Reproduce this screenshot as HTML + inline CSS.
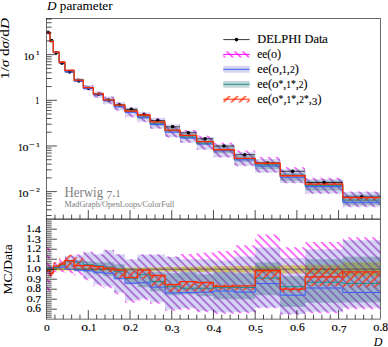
<!DOCTYPE html>
<html><head><meta charset="utf-8"><title>D parameter</title>
<style>html,body{margin:0;padding:0;background:#fff;}body{width:388px;height:347px;overflow:hidden;font-family:"Liberation Serif",serif;}svg{display:block;}</style></head>
<body>
<svg width="388" height="347" viewBox="0 0 388 347" font-family="'Liberation Serif', serif">
<defs>
<pattern id="hm" patternUnits="userSpaceOnUse" width="5.657" height="5.657" patternTransform="translate(3.4 0) rotate(45)"><line x1="-1" y1="2.8285" x2="6.657" y2="2.8285" stroke="#ff00ff" stroke-width="1.1"/></pattern>
<pattern id="hp" patternUnits="userSpaceOnUse" width="5.657" height="5.657" patternTransform="translate(3.4 0) rotate(45)"><line x1="-1" y1="2.8285" x2="6.657" y2="2.8285" stroke="#8a1cb4" stroke-width="1.0"/></pattern>
<pattern id="hr" patternUnits="userSpaceOnUse" width="5.657" height="5.657" patternTransform="translate(1.7 0) rotate(-45)"><line x1="-1" y1="2.8285" x2="6.657" y2="2.8285" stroke="#ff2a00" stroke-width="1.3"/></pattern>
<clipPath id="cm"><rect x="46.6" y="18.6" width="333.7" height="200.5"/></clipPath>
<clipPath id="cr"><rect x="46.6" y="219.1" width="333.7" height="100"/></clipPath>
</defs>
<rect width="388" height="347" fill="#fff"/>
<g clip-path="url(#cm)">
<clipPath id="com"><path clip-rule="evenodd" d="M0 0H388V347H0ZM46.6 31.71H49.94V32.9H46.6ZM49.94 39.91H53.27V41.1H49.94ZM53.27 51.92H59.11V52.5H53.27ZM59.11 62.04H64.95V63H59.11ZM64.95 69.49H74.13V71.8H64.95ZM74.13 78.3H83.31V81.4H74.13ZM83.31 85.22H93.32V90.21H83.31ZM93.32 91.56H103.33V97.57H93.32ZM103.33 96.57H114.17V103.74H103.33ZM114.17 102.26H125.02V110.26H114.17ZM125.02 107.48H137.53V116.83H125.02ZM137.53 112.13H150.05V121.73H137.53ZM150.05 117.93H165.06V128.54H150.05ZM165.06 124.53H180.08V137.03H165.06ZM180.08 130.91H196.76V142.6H180.08ZM196.76 136.91H213.45V149.5H196.76ZM213.45 144.33H234.31V157.25H213.45ZM234.31 152.31H255.16V165.78H234.31ZM255.16 159.12H280.19V172.55H255.16ZM280.19 169.18H305.22V183.05H280.19ZM305.22 178.9H342.76V193.48H305.22ZM342.76 191.95H380.3V206.64H342.76Z"/></clipPath>
<g clip-path="url(#com)"><path d="M46.6 28.36H49.94V37.23H46.6ZM49.94 39.34H53.27V41.94H49.94ZM53.27 51.36H59.11V53.3H53.27ZM59.11 61.31H64.95V63.8H59.11ZM64.95 69.4H74.13V72.81H64.95ZM74.13 78.13H83.31V82.13H74.13ZM83.31 85.1H93.32V90.61H83.31ZM93.32 91.44H103.33V98H93.32ZM103.33 96.47H114.17V104.18H103.33ZM114.17 102.18H125.02V110.71H114.17ZM125.02 107.41H137.53V117.39H125.02ZM137.53 112.03H150.05V122.16H137.53ZM150.05 117.83H165.06V128.99H150.05ZM165.06 124.41H180.08V137.43H165.06ZM180.08 130.01H196.76V143.1H180.08ZM196.76 135.77H213.45V149.95H196.76ZM213.45 142.7H234.31V157.68H213.45ZM234.31 150.45H255.16V166.2H234.31ZM255.16 157.11H280.19V172.8H255.16ZM280.19 167.36H305.22V183.34H280.19ZM305.22 177.71H342.76V194H305.22ZM342.76 191.49H380.3V207.13H342.76Z" fill="url(#hm)"/></g>
<path d="M46.6 31.71H49.94V32.9H46.6ZM49.94 39.91H53.27V41.1H49.94ZM53.27 51.92H59.11V52.5H53.27ZM59.11 62.04H64.95V63H59.11ZM64.95 69.49H74.13V71.8H64.95ZM74.13 78.3H83.31V81.4H74.13ZM83.31 85.22H93.32V90.21H83.31ZM93.32 91.56H103.33V97.57H93.32ZM103.33 96.57H114.17V103.74H103.33ZM114.17 102.26H125.02V110.26H114.17ZM125.02 107.48H137.53V116.83H125.02ZM137.53 112.13H150.05V121.73H137.53ZM150.05 117.93H165.06V128.54H150.05ZM165.06 124.53H180.08V137.03H165.06ZM180.08 130.91H196.76V142.6H180.08ZM196.76 136.91H213.45V149.5H196.76ZM213.45 144.33H234.31V157.25H213.45ZM234.31 152.31H255.16V165.78H234.31ZM255.16 159.12H280.19V172.55H255.16ZM280.19 169.18H305.22V183.05H280.19ZM305.22 178.9H342.76V193.48H305.22ZM342.76 191.95H380.3V206.64H342.76Z" fill="#d6d6f3"/>
<clipPath id="cbm"><path d="M46.6 31.71H49.94V32.9H46.6ZM49.94 39.91H53.27V41.1H49.94ZM53.27 51.92H59.11V52.5H53.27ZM59.11 62.04H64.95V63H59.11ZM64.95 69.49H74.13V71.8H64.95ZM74.13 78.3H83.31V81.4H74.13ZM83.31 85.22H93.32V90.21H83.31ZM93.32 91.56H103.33V97.57H93.32ZM103.33 96.57H114.17V103.74H103.33ZM114.17 102.26H125.02V110.26H114.17ZM125.02 107.48H137.53V116.83H125.02ZM137.53 112.13H150.05V121.73H137.53ZM150.05 117.93H165.06V128.54H150.05ZM165.06 124.53H180.08V137.03H165.06ZM180.08 130.91H196.76V142.6H180.08ZM196.76 136.91H213.45V149.5H196.76ZM213.45 144.33H234.31V157.25H213.45ZM234.31 152.31H255.16V165.78H234.31ZM255.16 159.12H280.19V172.55H255.16ZM280.19 169.18H305.22V183.05H280.19ZM305.22 178.9H342.76V193.48H305.22ZM342.76 191.95H380.3V206.64H342.76Z"/></clipPath>
<g clip-path="url(#cbm)"><path d="M46.6 28.36H49.94V37.23H46.6ZM49.94 39.34H53.27V41.94H49.94ZM53.27 51.36H59.11V53.3H53.27ZM59.11 61.31H64.95V63.8H59.11ZM64.95 69.4H74.13V72.81H64.95ZM74.13 78.13H83.31V82.13H74.13ZM83.31 85.1H93.32V90.61H83.31ZM93.32 91.44H103.33V98H93.32ZM103.33 96.47H114.17V104.18H103.33ZM114.17 102.18H125.02V110.71H114.17ZM125.02 107.41H137.53V117.39H125.02ZM137.53 112.03H150.05V122.16H137.53ZM150.05 117.83H165.06V128.99H150.05ZM165.06 124.41H180.08V137.43H165.06ZM180.08 130.01H196.76V143.1H180.08ZM196.76 135.77H213.45V149.95H196.76ZM213.45 142.7H234.31V157.68H213.45ZM234.31 150.45H255.16V166.2H234.31ZM255.16 157.11H280.19V172.8H255.16ZM280.19 167.36H305.22V183.34H280.19ZM305.22 177.71H342.76V194H305.22ZM342.76 191.49H380.3V207.13H342.76Z" fill="url(#hp)"/></g>
<path d="M46.6 31.91H49.94V32.7H46.6ZM49.94 40.11H53.27V40.9H49.94ZM53.27 51.92H59.11V52.5H53.27ZM59.11 61.86H64.95V63H59.11ZM64.95 70.29H74.13V71.8H64.95ZM74.13 79.19H83.31V81.1H74.13ZM83.31 86.77H93.32V88.9H83.31ZM93.32 92.96H103.33V95.32H93.32ZM103.33 98.66H114.17V101.44H103.33ZM114.17 104.03H125.02V107.09H114.17ZM125.02 109.3H137.53V112.52H125.02ZM137.53 115H150.05V118.74H137.53ZM150.05 121.2H165.06V125.53H150.05ZM165.06 127.61H180.08V132.77H165.06ZM180.08 133.4H196.76V138.51H180.08ZM196.76 139.82H213.45V145.04H196.76ZM213.45 146.6H234.31V153.07H213.45ZM234.31 155.51H255.16V161.77H234.31ZM255.16 161.66H280.19V168.97H255.16ZM280.19 172.74H305.22V180.69H280.19ZM305.22 180.61H342.76V190.59H305.22ZM342.76 194.68H380.3V204.94H342.76Z" fill="rgba(50,110,125,0.36)"/>
<path d="M46.6 32.3H49.94V33.74H46.6ZM49.94 40.5H53.27V42.59H49.94ZM53.27 51.36H59.11V52.5H53.27ZM59.11 61.13H64.95V63H59.11ZM64.95 69.31H74.13V71.8H64.95ZM74.13 78.65H83.31V80.7H74.13ZM83.31 87.33H93.32V88.3H83.31ZM93.32 93.71H103.33V94.5H93.32ZM103.33 99.8H114.17V100.6H103.33ZM114.17 105.2H125.02V106.98H114.17ZM125.02 109.6H137.53V111.06H125.02ZM137.53 115H150.05V116.78H137.53ZM150.05 121.89H165.06V124.54H150.05ZM165.06 129.79H180.08V131.98H165.06ZM180.08 135.43H196.76V137.73H180.08ZM196.76 141.63H213.45V143.98H196.76ZM213.45 149.22H234.31V150.68H213.45ZM234.31 158.32H255.16V159.38H234.31ZM255.16 163.26H280.19V165.2H255.16ZM280.19 175.24H305.22V176.36H280.19ZM305.22 182.19H342.76V186.2H305.22ZM342.76 197.54H380.3V200.94H342.76Z" fill="url(#hr)"/>
<line x1="46.6" x2="49.94" y1="32.3" y2="32.3" stroke="#000" stroke-width="0.7"/>
<line x1="48.27" x2="48.27" y1="31.91" y2="32.7" stroke="#000" stroke-width="0.7"/>
<circle cx="48.27" cy="32.3" r="1.75" fill="#000"/>
<line x1="49.94" x2="53.27" y1="40.5" y2="40.5" stroke="#000" stroke-width="0.7"/>
<line x1="51.61" x2="51.61" y1="40.2" y2="40.8" stroke="#000" stroke-width="0.7"/>
<circle cx="51.61" cy="40.5" r="1.75" fill="#000"/>
<line x1="53.27" x2="59.11" y1="52.7" y2="52.7" stroke="#000" stroke-width="0.7"/>
<line x1="56.19" x2="56.19" y1="52.46" y2="52.94" stroke="#000" stroke-width="0.7"/>
<circle cx="56.19" cy="52.7" r="1.75" fill="#000"/>
<line x1="59.11" x2="64.95" y1="63.2" y2="63.2" stroke="#000" stroke-width="0.7"/>
<line x1="62.03" x2="62.03" y1="62.96" y2="63.44" stroke="#000" stroke-width="0.7"/>
<circle cx="62.03" cy="63.2" r="1.75" fill="#000"/>
<line x1="64.95" x2="74.13" y1="72" y2="72" stroke="#000" stroke-width="0.7"/>
<line x1="69.54" x2="69.54" y1="71.76" y2="72.24" stroke="#000" stroke-width="0.7"/>
<circle cx="69.54" cy="72" r="1.75" fill="#000"/>
<line x1="74.13" x2="83.31" y1="80.9" y2="80.9" stroke="#000" stroke-width="0.7"/>
<line x1="78.72" x2="78.72" y1="80.66" y2="81.14" stroke="#000" stroke-width="0.7"/>
<circle cx="78.72" cy="80.9" r="1.75" fill="#000"/>
<line x1="83.31" x2="93.32" y1="88.3" y2="88.3" stroke="#000" stroke-width="0.7"/>
<line x1="88.31" x2="88.31" y1="88.06" y2="88.54" stroke="#000" stroke-width="0.7"/>
<circle cx="88.31" cy="88.3" r="1.75" fill="#000"/>
<line x1="93.32" x2="103.33" y1="94.3" y2="94.3" stroke="#000" stroke-width="0.7"/>
<line x1="98.32" x2="98.32" y1="94.04" y2="94.56" stroke="#000" stroke-width="0.7"/>
<circle cx="98.32" cy="94.3" r="1.75" fill="#000"/>
<line x1="103.33" x2="114.17" y1="100" y2="100" stroke="#000" stroke-width="0.7"/>
<line x1="108.75" x2="108.75" y1="99.72" y2="100.28" stroke="#000" stroke-width="0.7"/>
<circle cx="108.75" cy="100" r="1.75" fill="#000"/>
<line x1="114.17" x2="125.02" y1="105" y2="105" stroke="#000" stroke-width="0.7"/>
<line x1="119.6" x2="119.6" y1="104.7" y2="105.3" stroke="#000" stroke-width="0.7"/>
<circle cx="119.6" cy="105" r="1.75" fill="#000"/>
<line x1="125.02" x2="137.53" y1="109.3" y2="109.3" stroke="#000" stroke-width="0.7"/>
<line x1="131.28" x2="131.28" y1="108.99" y2="109.62" stroke="#000" stroke-width="0.7"/>
<circle cx="131.28" cy="109.3" r="1.75" fill="#000"/>
<line x1="137.53" x2="150.05" y1="114.8" y2="114.8" stroke="#000" stroke-width="0.7"/>
<line x1="143.79" x2="143.79" y1="114.45" y2="115.16" stroke="#000" stroke-width="0.7"/>
<circle cx="143.79" cy="114.8" r="1.75" fill="#000"/>
<line x1="150.05" x2="165.06" y1="120.6" y2="120.6" stroke="#000" stroke-width="0.7"/>
<line x1="157.56" x2="157.56" y1="120.21" y2="121" stroke="#000" stroke-width="0.7"/>
<circle cx="157.56" cy="120.6" r="1.75" fill="#000"/>
<line x1="165.06" x2="180.08" y1="126.8" y2="126.8" stroke="#000" stroke-width="0.7"/>
<line x1="172.57" x2="172.57" y1="126.37" y2="127.24" stroke="#000" stroke-width="0.7"/>
<circle cx="172.57" cy="126.8" r="1.75" fill="#000"/>
<line x1="180.08" x2="196.76" y1="132.8" y2="132.8" stroke="#000" stroke-width="0.7"/>
<line x1="188.42" x2="188.42" y1="132.31" y2="133.3" stroke="#000" stroke-width="0.7"/>
<circle cx="188.42" cy="132.8" r="1.75" fill="#000"/>
<line x1="196.76" x2="213.45" y1="138.8" y2="138.8" stroke="#000" stroke-width="0.7"/>
<line x1="205.11" x2="205.11" y1="138.25" y2="139.36" stroke="#000" stroke-width="0.7"/>
<circle cx="205.11" cy="138.8" r="1.75" fill="#000"/>
<line x1="213.45" x2="234.31" y1="146" y2="146" stroke="#000" stroke-width="0.7"/>
<line x1="223.88" x2="223.88" y1="145.41" y2="146.6" stroke="#000" stroke-width="0.7"/>
<circle cx="223.88" cy="146" r="1.75" fill="#000"/>
<line x1="234.31" x2="255.16" y1="154.7" y2="154.7" stroke="#000" stroke-width="0.7"/>
<line x1="244.73" x2="244.73" y1="154.08" y2="155.35" stroke="#000" stroke-width="0.7"/>
<circle cx="244.73" cy="154.7" r="1.75" fill="#000"/>
<line x1="255.16" x2="280.19" y1="163" y2="163" stroke="#000" stroke-width="0.7"/>
<line x1="267.68" x2="267.68" y1="162.32" y2="163.71" stroke="#000" stroke-width="0.7"/>
<circle cx="267.68" cy="163" r="1.75" fill="#000"/>
<line x1="280.19" x2="305.22" y1="171.3" y2="171.3" stroke="#000" stroke-width="0.7"/>
<line x1="292.7" x2="292.7" y1="170.52" y2="172.11" stroke="#000" stroke-width="0.7"/>
<circle cx="292.7" cy="171.3" r="1.75" fill="#000"/>
<line x1="305.22" x2="342.76" y1="182.5" y2="182.5" stroke="#000" stroke-width="0.7"/>
<line x1="323.99" x2="323.99" y1="181.63" y2="183.41" stroke="#000" stroke-width="0.7"/>
<circle cx="323.99" cy="182.5" r="1.75" fill="#000"/>
<line x1="342.76" x2="380.3" y1="197" y2="197" stroke="#000" stroke-width="0.7"/>
<line x1="361.53" x2="361.53" y1="195.66" y2="198.44" stroke="#000" stroke-width="0.7"/>
<circle cx="361.53" cy="197" r="1.75" fill="#000"/>
<path d="M46.6 32.3H49.94V40.5H53.27V52.31H59.11V62.81H64.95V72H74.13V81.1H83.31V88.6H93.32V94.9H103.33V100.81H114.17V106.98H125.02V112.29H137.53V117.68H150.05V124.54H165.06V132.17H180.08V138.11H196.76V143.98H213.45V150.88H234.31V159.86H255.16V166.08H280.19V177.27H305.22V186.63H342.76V202.26H380.3" fill="none" stroke="#3a5cff" stroke-width="1"/>
<path d="M46.6 32.3H49.94V40.5H53.27V52.4H59.11V62.42H64.95V70.47H74.13V79.56H83.31V87.43H93.32V93.62H103.33V99.61H114.17V105.5H125.02V111.28H137.53V115.92H150.05V123.25H165.06V130.62H180.08V136.98H196.76V142.98H213.45V150.06H234.31V158.71H255.16V164.87H280.19V175.12H305.22V185.28H342.76V200.04H380.3" fill="none" stroke="#1f8a8a" stroke-width="1"/>
<path d="M46.6 32.5H49.94V41.31H53.27V52.11H59.11V62.23H64.95V70.38H74.13V80.22H83.31V87.62H93.32V93.81H103.33V99.8H114.17V105.2H125.02V111.06H137.53V115H150.05V121.89H165.06V130.14H180.08V135.43H196.76V141.63H213.45V149.74H234.31V158.32H255.16V163.26H280.19V175.73H305.22V184.09H342.76V197.54H380.3" fill="none" stroke="#ff2a00" stroke-width="1.3"/>
</g>
<g clip-path="url(#cr)">
<path d="M46.6 267.2H49.94V271.2H46.6ZM49.94 267.7H53.27V270.7H49.94ZM53.27 268H59.11V270.4H53.27ZM59.11 268H64.95V270.4H59.11ZM64.95 268H74.13V270.4H64.95ZM74.13 268H83.31V270.4H74.13ZM83.31 268H93.32V270.4H83.31ZM93.32 267.9H103.33V270.5H93.32ZM103.33 267.8H114.17V270.6H103.33ZM114.17 267.7H125.02V270.7H114.17ZM125.02 267.6H137.53V270.8H125.02ZM137.53 267.4H150.05V271H137.53ZM150.05 267.2H165.06V271.2H150.05ZM165.06 267H180.08V271.4H165.06ZM180.08 266.7H196.76V271.7H180.08ZM196.76 266.4H213.45V272H196.76ZM213.45 266.2H234.31V272.2H213.45ZM234.31 266H255.16V272.4H234.31ZM255.16 265.7H280.19V272.7H255.16ZM280.19 265.2H305.22V273.2H280.19ZM305.22 264.7H342.76V273.7H305.22ZM342.76 262.2H380.3V276.2H342.76Z" fill="#f6e840"/>
<clipPath id="cor"><path clip-rule="evenodd" d="M0 0H388V347H0ZM46.6 266.2H49.94V272.2H46.6ZM49.94 266.2H53.27V272.2H49.94ZM53.27 265.2H59.11V268.2H53.27ZM59.11 263.2H64.95V268.2H59.11ZM64.95 255.7H74.13V268.2H64.95ZM74.13 255.2H83.31V271.7H74.13ZM83.31 252.4H93.32V278.4H83.31ZM93.32 254.4H103.33V284.4H93.32ZM103.33 250.3H114.17V286.4H103.33ZM114.17 254.4H125.02V292.5H114.17ZM125.02 259.6H137.53V300.8H125.02ZM137.53 254.8H150.05V298.7H137.53ZM150.05 254.8H165.06V302.2H150.05ZM165.06 257.1H180.08V309.5H165.06ZM180.08 259.2H196.76V308.2H180.08ZM196.76 259.2H213.45V310.9H196.76ZM213.45 260.4H234.31V312.5H213.45ZM234.31 256.4H255.16V312H234.31ZM255.16 247.6H280.19V307.4H255.16ZM280.19 257.9H305.22V313.9H280.19ZM305.22 249.3H342.76V311.7H305.22ZM342.76 240.2H380.3V307.7H342.76Z"/></clipPath>
<g clip-path="url(#cor)"><path d="M46.6 247.2H49.94V291.2H46.6ZM49.94 263.2H53.27V276.2H49.94ZM53.27 262.2H59.11V272.2H53.27ZM59.11 259.2H64.95V272.2H59.11ZM64.95 255.2H74.13V273.2H64.95ZM74.13 254.2H83.31V275.2H74.13ZM83.31 251.7H93.32V280.2H83.31ZM93.32 253.7H103.33V286.2H93.32ZM103.33 249.7H114.17V288.2H103.33ZM114.17 253.9H125.02V294.2H114.17ZM125.02 259.2H137.53V302.7H125.02ZM137.53 254.2H150.05V300.2H137.53ZM150.05 254.2H165.06V303.7H150.05ZM165.06 256.4H180.08V310.7H165.06ZM180.08 254.1H196.76V309.7H180.08ZM196.76 252.7H213.45V312.2H196.76ZM213.45 251.1H234.31V313.7H213.45ZM234.31 245.3H255.16V313.2H234.31ZM255.16 234.6H280.19V308.2H255.16ZM280.19 247.2H305.22V314.7H280.19ZM305.22 241.9H342.76V313.2H305.22ZM342.76 237.2H380.3V309.2H342.76Z" fill="url(#hm)"/></g>
<path d="M46.6 266.2H49.94V272.2H46.6ZM49.94 266.2H53.27V272.2H49.94ZM53.27 265.2H59.11V268.2H53.27ZM59.11 263.2H64.95V268.2H59.11ZM64.95 255.7H74.13V268.2H64.95ZM74.13 255.2H83.31V271.7H74.13ZM83.31 252.4H93.32V278.4H83.31ZM93.32 254.4H103.33V284.4H93.32ZM103.33 250.3H114.17V286.4H103.33ZM114.17 254.4H125.02V292.5H114.17ZM125.02 259.6H137.53V300.8H125.02ZM137.53 254.8H150.05V298.7H137.53ZM150.05 254.8H165.06V302.2H150.05ZM165.06 257.1H180.08V309.5H165.06ZM180.08 259.2H196.76V308.2H180.08ZM196.76 259.2H213.45V310.9H196.76ZM213.45 260.4H234.31V312.5H213.45ZM234.31 256.4H255.16V312H234.31ZM255.16 247.6H280.19V307.4H255.16ZM280.19 257.9H305.22V313.9H280.19ZM305.22 249.3H342.76V311.7H305.22ZM342.76 240.2H380.3V307.7H342.76Z" fill="rgba(100,100,220,0.27)"/>
<clipPath id="cbr"><path d="M46.6 266.2H49.94V272.2H46.6ZM49.94 266.2H53.27V272.2H49.94ZM53.27 265.2H59.11V268.2H53.27ZM59.11 263.2H64.95V268.2H59.11ZM64.95 255.7H74.13V268.2H64.95ZM74.13 255.2H83.31V271.7H74.13ZM83.31 252.4H93.32V278.4H83.31ZM93.32 254.4H103.33V284.4H93.32ZM103.33 250.3H114.17V286.4H103.33ZM114.17 254.4H125.02V292.5H114.17ZM125.02 259.6H137.53V300.8H125.02ZM137.53 254.8H150.05V298.7H137.53ZM150.05 254.8H165.06V302.2H150.05ZM165.06 257.1H180.08V309.5H165.06ZM180.08 259.2H196.76V308.2H180.08ZM196.76 259.2H213.45V310.9H196.76ZM213.45 260.4H234.31V312.5H213.45ZM234.31 256.4H255.16V312H234.31ZM255.16 247.6H280.19V307.4H255.16ZM280.19 257.9H305.22V313.9H280.19ZM305.22 249.3H342.76V311.7H305.22ZM342.76 240.2H380.3V307.7H342.76Z"/></clipPath>
<g clip-path="url(#cbr)"><path d="M46.6 247.2H49.94V291.2H46.6ZM49.94 263.2H53.27V276.2H49.94ZM53.27 262.2H59.11V272.2H53.27ZM59.11 259.2H64.95V272.2H59.11ZM64.95 255.2H74.13V273.2H64.95ZM74.13 254.2H83.31V275.2H74.13ZM83.31 251.7H93.32V280.2H83.31ZM93.32 253.7H103.33V286.2H93.32ZM103.33 249.7H114.17V288.2H103.33ZM114.17 253.9H125.02V294.2H114.17ZM125.02 259.2H137.53V302.7H125.02ZM137.53 254.2H150.05V300.2H137.53ZM150.05 254.2H165.06V303.7H150.05ZM165.06 256.4H180.08V310.7H165.06ZM180.08 254.1H196.76V309.7H180.08ZM196.76 252.7H213.45V312.2H196.76ZM213.45 251.1H234.31V313.7H213.45ZM234.31 245.3H255.16V313.2H234.31ZM255.16 234.6H280.19V308.2H255.16ZM280.19 247.2H305.22V314.7H280.19ZM305.22 241.9H342.76V313.2H305.22ZM342.76 237.2H380.3V309.2H342.76Z" fill="url(#hp)"/></g>
<path d="M46.6 267.2H49.94V271.2H46.6ZM49.94 267.2H53.27V271.2H49.94ZM53.27 265.2H59.11V268.2H53.27ZM59.11 262.2H64.95V268.2H59.11ZM64.95 260.2H74.13V268.2H64.95ZM74.13 260.2H83.31V270.2H74.13ZM83.31 261.2H93.32V272.2H83.31ZM93.32 262.2H103.33V274.2H93.32ZM103.33 262.2H114.17V276.2H103.33ZM114.17 264.2H125.02V279.2H114.17ZM125.02 269.2H137.53V284.2H125.02ZM137.53 270.2H150.05V287.2H137.53ZM150.05 272.2H165.06V291.2H150.05ZM165.06 273.2H180.08V295.2H165.06ZM180.08 272.2H196.76V294.2H180.08ZM196.76 274.2H213.45V296.2H196.76ZM213.45 272.2H234.31V299.2H213.45ZM234.31 273.2H255.16V299.2H234.31ZM255.16 262.2H280.19V295.2H255.16ZM280.19 276.2H305.22V306.9H280.19ZM305.22 259.2H342.76V302.7H305.22ZM342.76 256.8H380.3V302.2H342.76Z" fill="rgba(50,110,125,0.36)"/>
<line x1="46.6" x2="380.3" y1="269.2" y2="269.2" stroke="#333" stroke-width="0.6"/>
<path d="M46.6 269.2H49.94V276.2H46.6ZM49.94 269.2H53.27V279.2H49.94ZM53.27 262.2H59.11V268.2H53.27ZM59.11 258.2H64.95V268.2H59.11ZM64.95 254.7H74.13V268.2H64.95ZM74.13 257.2H83.31V268.2H74.13ZM83.31 264.2H93.32V269.2H83.31ZM93.32 266.2H103.33V270.2H93.32ZM103.33 268.2H114.17V272.2H103.33ZM114.17 270.2H125.02V278.7H114.17ZM125.02 270.7H137.53V277.7H125.02ZM137.53 270.2H150.05V278.7H137.53ZM150.05 275.5H165.06V287.2H150.05ZM165.06 283.2H180.08V292.2H165.06ZM180.08 281.6H196.76V291.2H180.08ZM196.76 282.5H213.45V292.2H196.76ZM213.45 284.2H234.31V290.2H213.45ZM234.31 285.9H255.16V290.2H234.31ZM255.16 270.5H280.19V279.7H255.16ZM280.19 287.2H305.22V291.7H280.19ZM305.22 267.6H342.76V286.2H305.22ZM342.76 271.9H380.3V287.2H342.76Z" fill="url(#hr)"/>
<path d="M46.6 269.2H49.94V269.2H53.27V267.2H59.11V267.2H64.95V269.2H74.13V270.2H83.31V270.7H93.32V272.2H103.33V273.2H114.17V278.7H125.02V283.2H137.53V282.7H150.05V287.2H165.06V292.9H180.08V292.7H196.76V292.2H213.45V291H234.31V292.1H255.16V283.6H280.19V295.2H305.22V288H342.76V292.5H380.3" fill="none" stroke="#3a5cff" stroke-width="1"/>
<path d="M46.6 269.2H49.94V269.2H53.27V267.7H59.11V265.2H64.95V261.2H74.13V262.2H83.31V264.7H93.32V265.7H103.33V267.2H114.17V271.7H125.02V278.7H137.53V274.7H150.05V281.7H165.06V286.7H180.08V288.2H196.76V288.2H213.45V287.7H234.31V287.5H255.16V278.2H280.19V286.7H305.22V282.3H342.76V283.4H380.3" fill="none" stroke="#1f8a8a" stroke-width="1"/>
<path d="M46.6 270.2H49.94V273.2H53.27V266.2H59.11V264.2H64.95V260.7H74.13V265.7H83.31V265.7H93.32V266.7H103.33V268.2H114.17V270.2H125.02V277.7H137.53V270.2H150.05V275.5H165.06V284.7H180.08V281.6H196.76V282.5H213.45V286.4H234.31V285.9H255.16V270.5H280.19V289.2H305.22V276.9H342.76V271.9H380.3" fill="none" stroke="#ff2a00" stroke-width="1.3"/>
</g>
<rect x="46.6" y="18.6" width="333.7" height="200.5" stroke="#1a1a1a" stroke-width="0.65" fill="none"/>
<rect x="46.6" y="219.1" width="333.7" height="100" stroke="#1a1a1a" stroke-width="0.65" fill="none"/>
<path d="M54.94 219.1v-4.5M54.94 319.1v-4.5M63.28 219.1v-4.5M63.28 319.1v-4.5M71.63 219.1v-4.5M71.63 319.1v-4.5M79.97 219.1v-4.5M79.97 319.1v-4.5M88.31 219.1v-9M88.31 319.1v-9M96.66 219.1v-4.5M96.66 319.1v-4.5M105 219.1v-4.5M105 319.1v-4.5M113.34 219.1v-4.5M113.34 319.1v-4.5M121.68 219.1v-4.5M121.68 319.1v-4.5M130.02 219.1v-9M130.02 319.1v-9M138.37 219.1v-4.5M138.37 319.1v-4.5M146.71 219.1v-4.5M146.71 319.1v-4.5M155.05 219.1v-4.5M155.05 319.1v-4.5M163.4 219.1v-4.5M163.4 319.1v-4.5M171.74 219.1v-9M171.74 319.1v-9M180.08 219.1v-4.5M180.08 319.1v-4.5M188.42 219.1v-4.5M188.42 319.1v-4.5M196.76 219.1v-4.5M196.76 319.1v-4.5M205.11 219.1v-4.5M205.11 319.1v-4.5M213.45 219.1v-9M213.45 319.1v-9M221.79 219.1v-4.5M221.79 319.1v-4.5M230.13 219.1v-4.5M230.13 319.1v-4.5M238.48 219.1v-4.5M238.48 319.1v-4.5M246.82 219.1v-4.5M246.82 319.1v-4.5M255.16 219.1v-9M255.16 319.1v-9M263.5 219.1v-4.5M263.5 319.1v-4.5M271.85 219.1v-4.5M271.85 319.1v-4.5M280.19 219.1v-4.5M280.19 319.1v-4.5M288.53 219.1v-4.5M288.53 319.1v-4.5M296.88 219.1v-9M296.88 319.1v-9M305.22 219.1v-4.5M305.22 319.1v-4.5M313.56 219.1v-4.5M313.56 319.1v-4.5M321.9 219.1v-4.5M321.9 319.1v-4.5M330.25 219.1v-4.5M330.25 319.1v-4.5M338.59 219.1v-9M338.59 319.1v-9M346.93 219.1v-4.5M346.93 319.1v-4.5M355.27 219.1v-4.5M355.27 319.1v-4.5M363.62 219.1v-4.5M363.62 319.1v-4.5M371.96 219.1v-4.5M371.96 319.1v-4.5M46.6 215.52h5M46.6 209.81h5M46.6 205.39h5M46.6 201.77h5M46.6 198.71h5M46.6 196.07h5M46.6 193.73h5M46.6 191.64h10.3M46.6 177.89h5M46.6 169.85h5M46.6 164.14h5M46.6 159.72h5M46.6 156.1h5M46.6 153.04h5M46.6 150.4h5M46.6 148.06h5M46.6 145.97h10.3M46.6 132.22h5M46.6 124.18h5M46.6 118.47h5M46.6 114.05h5M46.6 110.43h5M46.6 107.37h5M46.6 104.73h5M46.6 102.39h5M46.6 100.3h10.3M46.6 86.55h5M46.6 78.51h5M46.6 72.8h5M46.6 68.38h5M46.6 64.76h5M46.6 61.7h5M46.6 59.06h5M46.6 56.72h5M46.6 54.63h10.3M46.6 40.88h5M46.6 32.84h5M46.6 27.13h5M46.6 22.71h5M46.6 19.09h5M46.6 317.2h5M46.6 315.2h5M46.6 313.2h5M46.6 311.2h5M46.6 309.2h10.3M46.6 307.2h5M46.6 305.2h5M46.6 303.2h5M46.6 301.2h5M46.6 299.2h10.3M46.6 297.2h5M46.6 295.2h5M46.6 293.2h5M46.6 291.2h5M46.6 289.2h10.3M46.6 287.2h5M46.6 285.2h5M46.6 283.2h5M46.6 281.2h5M46.6 279.2h10.3M46.6 277.2h5M46.6 275.2h5M46.6 273.2h5M46.6 271.2h5M46.6 269.2h10.3M46.6 267.2h5M46.6 265.2h5M46.6 263.2h5M46.6 261.2h5M46.6 259.2h10.3M46.6 257.2h5M46.6 255.2h5M46.6 253.2h5M46.6 251.2h5M46.6 249.2h10.3M46.6 247.2h5M46.6 245.2h5M46.6 243.2h5M46.6 241.2h5M46.6 239.2h10.3M46.6 237.2h5M46.6 235.2h5M46.6 233.2h5M46.6 231.2h5M46.6 229.2h10.3M46.6 227.2h5M46.6 225.2h5M46.6 223.2h5M46.6 221.2h5" stroke="#000" stroke-width="0.7" fill="none"/>
<g fill="#000" stroke="#000" stroke-width="0.05" font-size="12">
<text x="47" y="9.8" textLength="65.6" lengthAdjust="spacingAndGlyphs"><tspan font-style="italic">D</tspan> parameter</text>
<text transform="translate(9.4 79.2) rotate(-90)" textLength="61.2" lengthAdjust="spacingAndGlyphs">1/<tspan font-style="italic">σ</tspan> d<tspan font-style="italic">σ</tspan>/d<tspan font-style="italic">D</tspan></text>
<text transform="translate(12.3 294.5) rotate(-90)" textLength="50.3" lengthAdjust="spacingAndGlyphs">MC/Data</text>
<text x="382.3" y="346.2" text-anchor="end" font-style="italic">D</text>
</g>
<g fill="#000" stroke="#000" stroke-width="0.2" font-size="12">
<text x="24.0" y="59.83" textLength="10.3" lengthAdjust="spacingAndGlyphs"><tspan font-size="9.36">1</tspan><tspan font-size="12.96">o</tspan></text><text x="36.0" y="55.23" font-size="8.4" textLength="3.5" lengthAdjust="spacingAndGlyphs"><tspan font-size="6.55">1</tspan></text>
<text x="35.6" y="103.5" textLength="3.6" lengthAdjust="spacingAndGlyphs"><tspan font-size="9.36">1</tspan></text>
<text x="18.2" y="151.17" textLength="10.3" lengthAdjust="spacingAndGlyphs"><tspan font-size="9.36">1</tspan><tspan font-size="12.96">o</tspan></text><text x="29.2" y="146.97" font-size="8.4" textLength="5.6" lengthAdjust="spacingAndGlyphs">−</text><text x="36.3" y="146.57" font-size="8.4" textLength="3.5" lengthAdjust="spacingAndGlyphs"><tspan font-size="6.55">1</tspan></text>
<text x="18.2" y="196.84" textLength="10.3" lengthAdjust="spacingAndGlyphs"><tspan font-size="9.36">1</tspan><tspan font-size="12.96">o</tspan></text><text x="29.2" y="192.64" font-size="8.4" textLength="5.6" lengthAdjust="spacingAndGlyphs">−</text><text x="36.3" y="192.24" font-size="8.4" textLength="3.5" lengthAdjust="spacingAndGlyphs"><tspan font-size="6.55">2</tspan></text>
<text x="26.4" y="311.6" textLength="14.6" lengthAdjust="spacingAndGlyphs"><tspan font-size="12.96">o</tspan>.6</text>
<text x="26.4" y="301.6" textLength="14.6" lengthAdjust="spacingAndGlyphs"><tspan font-size="12.96">o</tspan>.<tspan dy="1.74" font-size="11.16">7</tspan><tspan dy="-1.74">&#8203;</tspan></text>
<text x="26.4" y="291.6" textLength="14.6" lengthAdjust="spacingAndGlyphs"><tspan font-size="12.96">o</tspan>.8</text>
<text x="26.4" y="281.6" textLength="14.6" lengthAdjust="spacingAndGlyphs"><tspan font-size="12.96">o</tspan>.<tspan dy="1.74" font-size="11.16">9</tspan><tspan dy="-1.74">&#8203;</tspan></text>
<text x="26.4" y="271.6" textLength="14.6" lengthAdjust="spacingAndGlyphs"><tspan font-size="9.36">1</tspan>.<tspan font-size="12.96">o</tspan></text>
<text x="26.4" y="261.6" textLength="14.6" lengthAdjust="spacingAndGlyphs"><tspan font-size="9.36">1</tspan>.<tspan font-size="9.36">1</tspan></text>
<text x="26.4" y="251.6" textLength="14.6" lengthAdjust="spacingAndGlyphs"><tspan font-size="9.36">1</tspan>.<tspan font-size="9.36">2</tspan></text>
<text x="26.4" y="241.6" textLength="14.6" lengthAdjust="spacingAndGlyphs"><tspan font-size="9.36">1</tspan>.<tspan dy="1.74" font-size="11.16">3</tspan><tspan dy="-1.74">&#8203;</tspan></text>
<text x="26.4" y="231.6" textLength="14.6" lengthAdjust="spacingAndGlyphs"><tspan font-size="9.36">1</tspan>.<tspan dy="1.74" font-size="11.16">4</tspan><tspan dy="-1.74">&#8203;</tspan></text>
<text x="44.1" y="331.4" textLength="5.8" lengthAdjust="spacingAndGlyphs"><tspan font-size="12.96">o</tspan></text>
<text x="81.31" y="331.4" textLength="14.8" lengthAdjust="spacingAndGlyphs"><tspan font-size="12.96">o</tspan>.<tspan font-size="9.36">1</tspan></text>
<text x="123.02" y="331.4" textLength="14.8" lengthAdjust="spacingAndGlyphs"><tspan font-size="12.96">o</tspan>.<tspan font-size="9.36">2</tspan></text>
<text x="164.74" y="331.4" textLength="14.8" lengthAdjust="spacingAndGlyphs"><tspan font-size="12.96">o</tspan>.<tspan dy="1.74" font-size="11.16">3</tspan><tspan dy="-1.74">&#8203;</tspan></text>
<text x="206.45" y="331.4" textLength="14.8" lengthAdjust="spacingAndGlyphs"><tspan font-size="12.96">o</tspan>.<tspan dy="1.74" font-size="11.16">4</tspan><tspan dy="-1.74">&#8203;</tspan></text>
<text x="248.16" y="331.4" textLength="14.8" lengthAdjust="spacingAndGlyphs"><tspan font-size="12.96">o</tspan>.<tspan dy="1.74" font-size="11.16">5</tspan><tspan dy="-1.74">&#8203;</tspan></text>
<text x="289.88" y="331.4" textLength="14.8" lengthAdjust="spacingAndGlyphs"><tspan font-size="12.96">o</tspan>.6</text>
<text x="331.59" y="331.4" textLength="14.8" lengthAdjust="spacingAndGlyphs"><tspan font-size="12.96">o</tspan>.<tspan dy="1.74" font-size="11.16">7</tspan><tspan dy="-1.74">&#8203;</tspan></text>
<text x="373.3" y="331.4" textLength="14.8" lengthAdjust="spacingAndGlyphs"><tspan font-size="12.96">o</tspan>.8</text>
</g>
<line x1="223.3" x2="249.6" y1="39.6" y2="39.6" stroke="#000" stroke-width="0.8"/>
<circle cx="236.45" cy="39.6" r="1.8" fill="#000"/>
<rect x="223.3" y="51.2" width="26.3" height="6.4" fill="url(#hm)"/>
<line x1="223.3" x2="249.6" y1="54.4" y2="54.4" stroke="#ff00ff" stroke-width="1"/>
<rect x="223.3" y="65.9" width="26.3" height="6.8" fill="#d6d6f3"/>
<line x1="223.3" x2="249.6" y1="69.3" y2="69.3" stroke="#3a5cff" stroke-width="1"/>
<rect x="223.3" y="80.9" width="26.3" height="6.8" fill="rgba(60,120,130,0.30)"/>
<line x1="223.3" x2="249.6" y1="84.3" y2="84.3" stroke="#1f8a8a" stroke-width="1"/>
<rect x="223.3" y="96" width="26.3" height="6.4" fill="url(#hr)"/>
<line x1="223.3" x2="249.6" y1="99.2" y2="99.2" stroke="#ff2a00" stroke-width="1"/>
<g fill="#000" stroke="#000" stroke-width="0.12" font-size="12">
<text x="257.2" y="43.2" textLength="70.7" lengthAdjust="spacingAndGlyphs">DELPHI Data</text>
<text x="257.2" y="58" textLength="23.7" lengthAdjust="spacingAndGlyphs">ee(<tspan font-size="12.96">o</tspan>)</text>
<text x="257.2" y="72.9" textLength="41.7" lengthAdjust="spacingAndGlyphs">ee(<tspan font-size="12.96">o</tspan>,<tspan font-size="9.36">1</tspan>,<tspan font-size="9.36">2</tspan>)</text>
<text x="257.2" y="87.9" textLength="50.4" lengthAdjust="spacingAndGlyphs">ee(<tspan font-size="12.96">o</tspan><tspan dy="-1.2" font-size="9.6">*</tspan><tspan dy="1.2">,</tspan><tspan font-size="9.36">1</tspan><tspan dy="-1.2" font-size="9.6">*</tspan><tspan dy="1.2">,</tspan><tspan font-size="9.36">2</tspan>)</text>
<text x="257.2" y="102.8" textLength="64.3" lengthAdjust="spacingAndGlyphs">ee(<tspan font-size="12.96">o</tspan><tspan dy="-1.2" font-size="9.6">*</tspan><tspan dy="1.2">,</tspan><tspan font-size="9.36">1</tspan><tspan dy="-1.2" font-size="9.6">*</tspan><tspan dy="1.2">,</tspan><tspan font-size="9.36">2</tspan><tspan dy="-1.2" font-size="9.6">*</tspan><tspan dy="1.2">,</tspan><tspan dy="1.74" font-size="11.16">3</tspan><tspan dy="-1.74">&#8203;</tspan>)</text>
</g>
<text x="64.4" y="196.5" font-size="14" fill="#808080" textLength="56.2" lengthAdjust="spacingAndGlyphs">Herwig <tspan dy="2.03" font-size="13.02">7</tspan><tspan dy="-2.03">.</tspan><tspan font-size="10.92">1</tspan></text>
<text x="64.4" y="206.8" font-size="8" fill="#808080" textLength="110" lengthAdjust="spacingAndGlyphs">MadGraph/OpenLoops/ColorFull</text>
</svg>
</body></html>
